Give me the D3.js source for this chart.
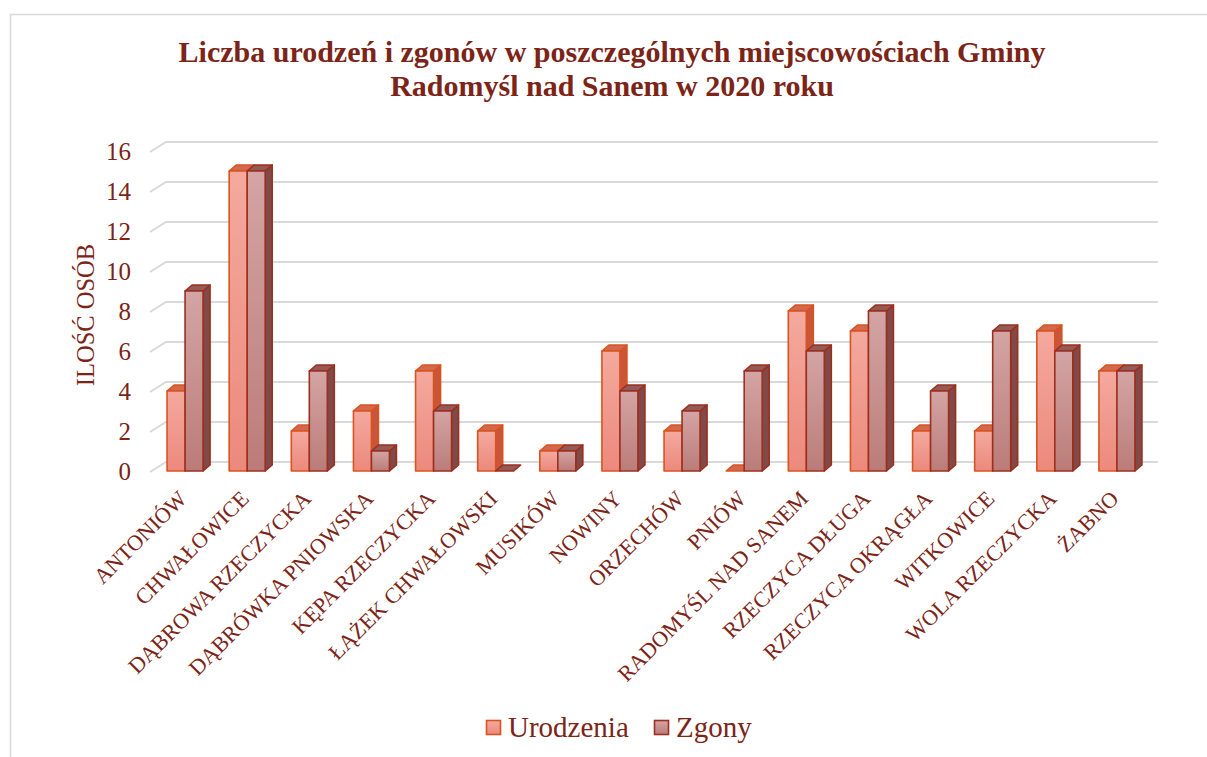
<!DOCTYPE html>
<html><head><meta charset="utf-8">
<script src="https://cdn.jsdelivr.net/npm/d3@7"></script>
<style>body{margin:0;background:#fff}svg{display:block}text{font-family:"Liberation Serif","Times New Roman",serif;fill:#7b2417}</style>
</head><body><svg id="c" width="1207" height="757"></svg>
<script>
const categories = ["ANTONIÓW","CHWAŁOWICE","DĄBROWA RZECZYCKA","DĄBRÓWKA PNIOWSKA","KĘPA RZECZYCKA","ŁĄŻEK CHWAŁOWSKI","MUSIKÓW","NOWINY","ORZECHÓW","PNIÓW","RADOMYŚL NAD SANEM","RZECZYCA DŁUGA","RZECZYCA OKRĄGŁA","WITKOWICE","WOLA RZECZYCKA","ŻABNO"];
const urodzenia = [4,15,2,3,5,2,1,6,2,0,8,7,2,2,7,5];
const zgony = [9,15,5,1,3,0,1,4,3,5,6,8,4,7,6,5];
const seriesNames = ["Urodzenia","Zgony"];
const yTicks = [0,2,4,6,8,10,12,14,16];
const titleLines = ["Liczba urodzeń i zgonów w poszczególnych miejscowościach Gminy","Radomyśl nad Sanem w 2020 roku"];
const yTitle = "ILOŚĆ OSÓB";

const svg = d3.select("#c");
const styles = {
  Urodzenia:{top:"#f4a99f",bot:"#ec897c",stroke:"#d9531e",side:"#c9553a",cap:"#d2694f"},
  Zgony:{top:"#d3a5a4",bot:"#bb7c79",stroke:"#9c2f20",side:"#7f4a47",cap:"#935a56"}
};
const defs = svg.append("defs");
seriesNames.forEach((s,i)=>{
  const g = defs.append("linearGradient").attr("id","g"+i).attr("x1",0).attr("y1",0).attr("x2",0).attr("y2",1);
  g.append("stop").attr("offset","0%").attr("stop-color",styles[s].top);
  g.append("stop").attr("offset","100%").attr("stop-color",styles[s].bot);
});

// outer border
svg.append("rect").attr("x",10.5).attr("y",14.5).attr("width",1300).attr("height",800)
  .attr("fill","none").attr("stroke","#d9d9d9").attr("stroke-width",1.5);

// title
svg.append("text").attr("x",612).attr("text-anchor","middle")
  .style("font-weight","bold").style("font-size","30px")
  .selectAll("tspan").data(titleLines).join("tspan")
  .attr("x",612).attr("y",(d,i)=>62+i*34).text(d=>d);

const y = d3.scaleLinear().domain([0,16]).range([471,151]);
const x = d3.scaleBand().domain(categories).range([154,1148]).paddingInner(0);
const bw = 18;
const x1 = d3.scaleBand().domain(seriesNames).range([x.bandwidth()/2-bw, x.bandwidth()/2+bw]);
const dX = 7, dY = -6;
const gY = -10;

// gridlines
const grid = svg.append("g").attr("stroke","#d9d9d9").attr("stroke-width",2).attr("fill","none");
yTicks.forEach(t=>{
  grid.append("path").attr("d",`M150,${y(t)+1}L166,${y(t)+gY+1}L1158,${y(t)+gY+1}`);
});

// y tick labels
svg.append("g").selectAll("text").data(yTicks).join("text")
  .attr("x",131).attr("y",d=>y(d)).attr("dy","0.35em").attr("text-anchor","end")
  .style("font-size","25px").text(d=>d);

// y title
svg.append("text").attr("transform","translate(94,315) rotate(-90)").attr("text-anchor","middle")
  .style("font-size","24.5px").text(yTitle);

// bars
const data = categories.map((c,i)=>({c, vals:[urodzenia[i],zgony[i]]}));
const bars = svg.append("g");
data.forEach(d=>{
  seriesNames.forEach((s,si)=>{
    const v = d.vals[si];
    const x0 = x(d.c)+x1(s), yt = y(v), yb = y(0);
    const st = styles[s];
    const g = bars.append("g").attr("stroke",st.stroke).attr("stroke-width",1.6).attr("stroke-linejoin","round");
    if (v>0) {
      g.append("path").attr("fill",st.side)
        .attr("d",`M${x0+bw},${yt}L${x0+bw+dX},${yt+dY}L${x0+bw+dX},${yb+dY}L${x0+bw},${yb}Z`);
    }
    g.append("path").attr("fill",st.cap)
      .attr("d",`M${x0},${yt}L${x0+dX},${yt+dY}L${x0+bw+dX},${yt+dY}L${x0+bw},${yt}Z`);
    if (v>0) {
      g.append("rect").attr("x",x0).attr("y",yt).attr("width",bw).attr("height",yb-yt).attr("fill",`url(#g${si})`);
    }
  });
});

// x labels
svg.append("g").selectAll("text").data(categories).join("text")
  .attr("transform",d=>`translate(${x(d)+x.bandwidth()/2+3},500) rotate(-45)`)
  .attr("text-anchor","end").style("font-size","22px").text(d=>d);

// legend
const leg = svg.append("g");
const legX = [486, 654];
seriesNames.forEach((s,i)=>{
  leg.append("rect").attr("x",legX[i]+0.5).attr("y",720.5).attr("width",14).attr("height",14)
    .attr("fill",`url(#g${i})`).attr("stroke",styles[s].stroke).attr("stroke-width",1.6);
  leg.append("text").attr("x",legX[i]+22).attr("y",737).style("font-size","29px").text(s);
});
</script></body></html>
